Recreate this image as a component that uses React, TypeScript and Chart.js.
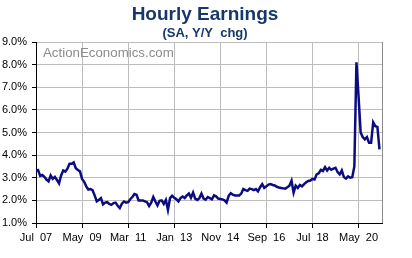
import React, { useEffect, useRef } from "react";
import { Chart, registerables } from "chart.js";

Chart.register(...registerables);

// Monthly Y/Y % change, Jul 2007 .. Mar 2021 (index 0 = Jul 2007)
const earningsYoY: number[] = [
  3.30, 3.34, 3.08, 3.12, 3.04, 2.92, 2.84, 3.10, 2.95, 3.04,
  2.90, 2.75, 3.10, 3.32, 3.27, 3.40, 3.62, 3.62, 3.68, 3.42,
  3.34, 3.28, 2.95, 2.82, 2.62, 2.48, 2.50, 2.45, 2.22, 1.96,
  2.02, 2.10, 1.82, 1.90, 1.92, 1.84, 1.80, 1.88, 1.90, 1.76,
  1.66, 1.85, 1.95, 1.90, 1.92, 2.05, 2.15, 2.28, 2.25, 2.00,
  2.00, 2.00, 1.96, 1.92, 1.75, 1.90, 2.15, 1.95, 1.78, 1.98,
  2.00, 1.84, 2.02, 1.58, 2.10, 2.20, 2.12, 2.05, 1.95, 2.10,
  2.17, 2.10, 2.22, 2.30, 2.12, 2.35, 2.08, 2.02, 2.10, 2.30,
  2.08, 2.03, 2.15, 2.10, 2.05, 2.22, 2.18, 2.08, 2.06, 2.04,
  2.00, 1.90, 2.20, 2.32, 2.25, 2.22, 2.22, 2.22, 2.30, 2.50,
  2.45, 2.42, 2.52, 2.50, 2.45, 2.50, 2.40, 2.58, 2.72, 2.55,
  2.62, 2.70, 2.72, 2.68, 2.66, 2.60, 2.57, 2.55, 2.53, 2.52,
  2.58, 2.65, 2.87, 2.34, 2.65, 2.55, 2.68, 2.62, 2.72, 2.80,
  2.86, 2.88, 2.95, 2.92, 3.15, 3.20, 3.35, 3.30, 3.47, 3.32,
  3.44, 3.35, 3.40, 3.44, 3.25, 3.15, 3.32, 3.03, 2.96, 3.06,
  3.00, 3.02, 3.50, 8.10, 6.60, 5.00, 4.80, 4.70, 4.80, 4.55,
  4.55, 5.45, 5.28, 5.25, 4.25,
];

const xTickIndex: number[] = [0, 22, 44, 66, 88, 110, 132, 154];
const xTickLabels: string[] = [
  "Jul  07", "May  09", "Mar  11", "Jan  13", "Nov  14", "Sep  16", "Jul  18", "May  20",
];
const yTicks: number[] = [1, 2, 3, 4, 5, 6, 7, 8, 9];

const titleText = "Hourly Earnings";
const subtitleText = "(SA, Y/Y  chg)";
const watermarkText = "ActionEconomics.com";

const FONT = '"Liberation Sans", Arial, sans-serif';

export default function App() {
  const canvasRef = useRef<HTMLCanvasElement | null>(null);

  useEffect(() => {
    const canvas = canvasRef.current;
    if (!canvas) return;

    const decor = {
      id: "decor",
      beforeDatasetsDraw(chart: any) {
        const { ctx, chartArea } = chart;
        ctx.save();
        ctx.font = `13.3px ${FONT}`;
        ctx.fillStyle = "#8c8c8c";
        ctx.textAlign = "left";
        ctx.textBaseline = "alphabetic";
        ctx.fillText(watermarkText, chartArea.left + 7, chartArea.top + 14.5);
        ctx.strokeStyle = "#8a8a8a";
        ctx.lineWidth = 1;
        ctx.beginPath();
        ctx.moveTo(Math.round(chartArea.right) + 0.5, chartArea.top);
        ctx.lineTo(Math.round(chartArea.right) + 0.5, chartArea.bottom);
        ctx.stroke();
        ctx.restore();
      },
      afterDraw(chart: any) {
        const { ctx } = chart;
        ctx.save();
        ctx.fillStyle = "#17386B";
        ctx.textAlign = "center";
        ctx.textBaseline = "alphabetic";
        ctx.font = `bold 19px ${FONT}`;
        ctx.fillText(titleText, 205, 20);
        ctx.font = `bold 13px ${FONT}`;
        ctx.fillText(subtitleText, 205, 37);
        ctx.restore();
      },
    };

    const chart = new Chart(canvas, {
      type: "line",
      data: {
        datasets: [
          {
            data: earningsYoY.map((v, i) => ({ x: i, y: v })),
            borderColor: "#0c0c80",
            borderWidth: 2.5,
            pointRadius: 0,
            tension: 0,
            fill: false,
          },
        ],
      },
      options: {
        responsive: false,
        animation: false,
        layout: { padding: { top: 42, right: 30, left: 0, bottom: 0 } },
        plugins: {
          legend: { display: false },
          tooltip: { enabled: false },
          title: { display: false },
        },
        scales: {
          x: {
            type: "linear",
            min: 0,
            max: 165.2,
            afterBuildTicks: (scale: any) => {
              scale.ticks = xTickIndex.map((v) => ({ value: v }));
            },
            afterFit: (scale: any) => {
              scale.height = 35;
            },
            ticks: {
              autoSkip: false,
              maxRotation: 0,
              minRotation: 0,
              padding: 3,
              color: "#000",
              font: { family: FONT, size: 11 },
              callback: (value: any) => {
                const k = xTickIndex.indexOf(Number(value));
                return k >= 0 ? xTickLabels[k] : "";
              },
            },
            grid: {
              color: "#bdbdbd",
              tickColor: "#000",
              tickLength: 5,
              lineWidth: 1,
            },
            border: { color: "#000", width: 1 },
          },
          y: {
            type: "linear",
            min: 1,
            max: 9,
            afterBuildTicks: (scale: any) => {
              scale.ticks = yTicks.map((v) => ({ value: v }));
            },
            afterFit: (scale: any) => {
              scale.width = 36;
            },
            ticks: {
              padding: 5,
              color: "#000",
              font: { family: FONT, size: 11 },
              callback: (value: any) => Number(value).toFixed(1) + "%",
            },
            grid: {
              color: "#bdbdbd",
              tickColor: "#000",
              tickLength: 4,
              lineWidth: 1,
            },
            border: { color: "#000", width: 1 },
          },
        },
      },
      plugins: [decor],
    } as any);

    return () => chart.destroy();
  }, []);

  return (
    <div style={{ position: "fixed", left: 0, top: 0, width: 412, height: 258, background: "#fff" }}>
      <canvas ref={canvasRef} width={412} height={258} style={{ display: "block" }} />
    </div>
  );
}
